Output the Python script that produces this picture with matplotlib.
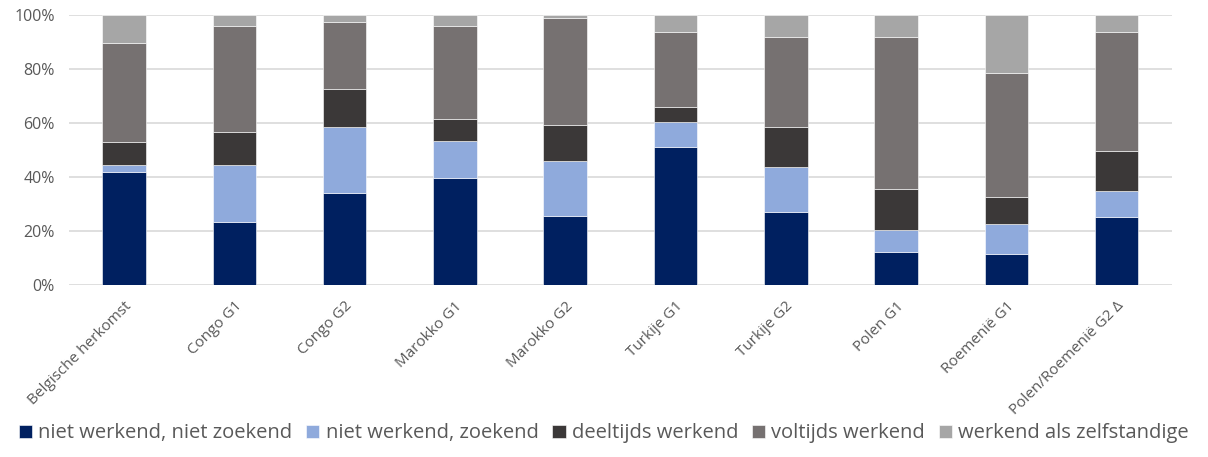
import numpy as np
import matplotlib.pyplot as plt
from matplotlib.ticker import PercentFormatter

plt.rcParams['font.family'] = ['Open Sans', 'DejaVu Sans']

categories = ['Belgische herkomst', 'Congo G1', 'Congo G2', 'Marokko G1', 'Marokko G2',
              'Turkije G1', 'Turkije G2', 'Polen G1', 'Roemenië G1', 'Polen/Roemenië G2 Δ']

niet_niet = [41.7, 23.1, 34.0, 39.6, 25.5, 51.1, 27.1, 12.0, 11.2, 25.1]
niet_zoek = [2.8, 21.3, 24.5, 13.7, 20.2, 9.3, 16.5, 8.4, 11.3, 9.6]
deeltijds = [8.2, 12.0, 14.1, 8.0, 13.5, 5.5, 14.9, 15.1, 10.0, 14.9]
voltijds = [36.9, 39.5, 24.8, 34.4, 39.7, 27.8, 33.1, 56.1, 46.0, 44.0]
zelfstandig = [10.4, 4.1, 2.6, 4.3, 1.1, 6.3, 8.4, 8.4, 21.5, 6.4]

series = [
    ('niet werkend, niet zoekend', niet_niet, '#002060'),
    ('niet werkend, zoekend', niet_zoek, '#8FAADC'),
    ('deeltijds werkend', deeltijds, '#3B3838'),
    ('voltijds werkend', voltijds, '#767171'),
    ('werkend als zelfstandige', zelfstandig, '#A6A6A6'),
]

fig = plt.figure(figsize=(12.08, 4.57), dpi=100)
ax = fig.add_axes([0.057, 0.377, 0.913, 0.591])

x = np.arange(len(categories))
bottom = np.zeros(len(categories))
for name, vals, col in series:
    vals = np.array(vals)
    ax.bar(x, vals, 0.395, bottom=bottom, color=col, label=name,
           edgecolor='white', linewidth=0.4, zorder=3)
    bottom += vals

ax.set_xlim(-0.5, len(categories) - 0.5)
ax.set_ylim(0, 100)
ax.set_yticks(np.arange(0, 101, 20))
ax.yaxis.set_major_formatter(PercentFormatter(decimals=0))
ax.grid(axis='y', color='#D9D9D9', linewidth=1.2, zorder=0)
for s in ax.spines.values():
    s.set_visible(False)
ax.tick_params(axis='both', length=0, colors='#595959', labelsize=11.5)
ax.tick_params(axis='y', pad=10)
ax.tick_params(axis='x', pad=10, labelsize=11)
ax.set_xticks(x)
ax.set_xticklabels(categories, rotation=45, ha='right', rotation_mode='anchor')

leg = fig.legend(loc='lower center', bbox_to_anchor=(0.5, -0.01), ncol=5, frameon=False,
                 fontsize=14.5, handlelength=0.65, handleheight=0.65, handletextpad=0.3,
                 columnspacing=0.7, labelcolor='#595959')

fig.savefig('out.png', dpi=100)
